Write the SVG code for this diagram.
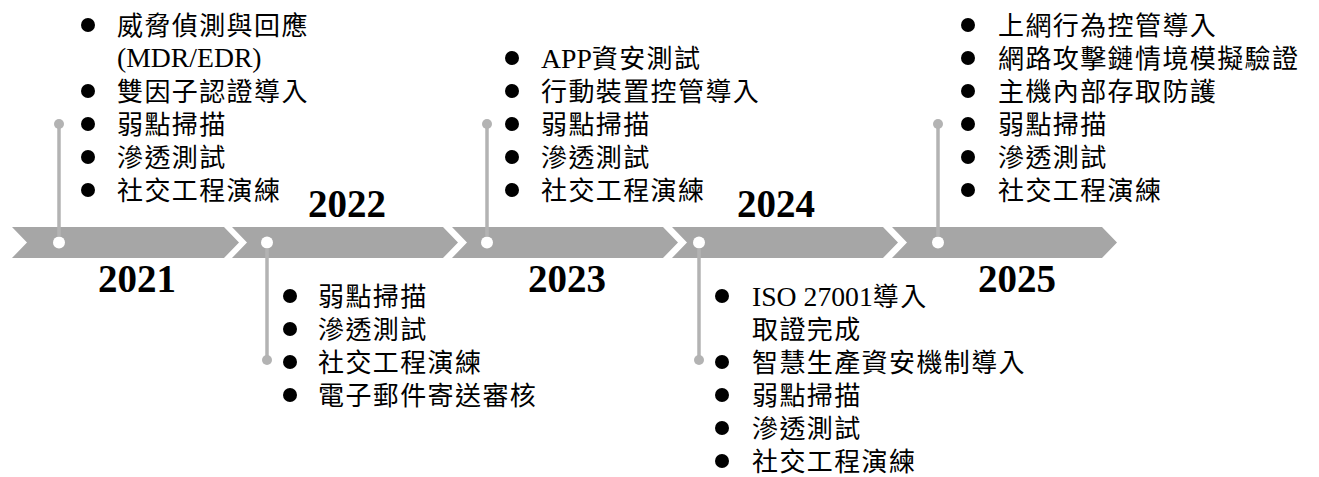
<svg xmlns="http://www.w3.org/2000/svg" width="1319" height="477" viewBox="0 0 1319 477">
<style>
.band{fill:#a6a6a6}
.hole{fill:#ffffff}
.conn{stroke:#b3b3b3;stroke-width:3.5;fill:none}
.knob{fill:#b3b3b3}
.bul{fill:#000000}
.item{font-family:"Liberation Serif","Noto Sans CJK TC",serif;font-size:26px;letter-spacing:1.4px;fill:#000000}
.lat{font-size:27.7px;letter-spacing:0}
.year{font-family:"Liberation Serif","Times New Roman",serif;font-size:39px;font-weight:bold;fill:#000000;text-anchor:middle}
</style>
<rect width="1319" height="477" fill="#ffffff"/>

<g id="y2021">
<path class="band" d="M12,227 L224,227 L239,242.5 L224,258 L12,258 L27,242.5 Z"/>
<circle class="hole" cx="59" cy="242.5" r="6"/>
<text class="year" x="137" y="292">2021</text>
<circle class="bul" cx="88" cy="25" r="7"/><text class="item" x="117" y="35">威脅偵測與回應</text>
<text class="item lat" x="117" y="67">(MDR/EDR)</text>
<circle class="bul" cx="88" cy="91" r="7"/><text class="item" x="117" y="101">雙因子認證導入</text>
<circle class="bul" cx="88" cy="124" r="7"/><text class="item" x="117" y="134">弱點掃描</text>
<circle class="bul" cx="88" cy="157" r="7"/><text class="item" x="117" y="167">滲透測試</text>
<circle class="bul" cx="88" cy="190" r="7"/><text class="item" x="117" y="200">社交工程演練</text>
</g>

<g id="y2022">
<path class="band" d="M232,227 L443,227 L458,242.5 L443,258 L232,258 L247,242.5 Z"/>
<circle class="hole" cx="267" cy="242.5" r="6"/>
<text class="year" x="347" y="217">2022</text>
<circle class="bul" cx="290" cy="296" r="7"/><text class="item" x="318" y="306">弱點掃描</text>
<circle class="bul" cx="290" cy="329" r="7"/><text class="item" x="318" y="339">滲透測試</text>
<circle class="bul" cx="290" cy="362" r="7"/><text class="item" x="318" y="372">社交工程演練</text>
<circle class="bul" cx="290" cy="395" r="7"/><text class="item" x="318" y="405">電子郵件寄送審核</text>
</g>

<g id="y2023">
<path class="band" d="M452,227 L663,227 L678,242.5 L663,258 L452,258 L467,242.5 Z"/>
<circle class="hole" cx="487" cy="242.5" r="6"/>
<text class="year" x="567" y="292">2023</text>
<circle class="bul" cx="512" cy="58" r="7"/><text class="item" x="541" y="68"><tspan class="lat">APP</tspan>資安測試</text>
<circle class="bul" cx="512" cy="91" r="7"/><text class="item" x="541" y="101">行動裝置控管導入</text>
<circle class="bul" cx="512" cy="124" r="7"/><text class="item" x="541" y="134">弱點掃描</text>
<circle class="bul" cx="512" cy="157" r="7"/><text class="item" x="541" y="167">滲透測試</text>
<circle class="bul" cx="512" cy="190" r="7"/><text class="item" x="541" y="200">社交工程演練</text>
</g>

<g id="y2024">
<path class="band" d="M672,227 L883,227 L898,242.5 L883,258 L672,258 L687,242.5 Z"/>
<circle class="hole" cx="699" cy="242.5" r="6"/>
<text class="year" x="776" y="217">2024</text>
<circle class="bul" cx="722" cy="296" r="7"/><text class="item" x="752" y="306"><tspan class="lat">ISO 27001</tspan>導入</text>
<text class="item" x="752" y="339">取證完成</text>
<circle class="bul" cx="722" cy="362" r="7"/><text class="item" x="752" y="372">智慧生產資安機制導入</text>
<circle class="bul" cx="722" cy="395" r="7"/><text class="item" x="752" y="405">弱點掃描</text>
<circle class="bul" cx="722" cy="428" r="7"/><text class="item" x="752" y="438">滲透測試</text>
<circle class="bul" cx="722" cy="461" r="7"/><text class="item" x="752" y="471">社交工程演練</text>
</g>

<g id="y2025">
<path class="band" d="M892,227 L1102,227 L1117,242.5 L1102,258 L892,258 L907,242.5 Z"/>
<circle class="hole" cx="938" cy="242.5" r="6"/>
<text class="year" x="1017" y="292">2025</text>
<circle class="bul" cx="968" cy="25" r="7"/><text class="item" x="998" y="35">上網行為控管導入</text>
<circle class="bul" cx="968" cy="58" r="7"/><text class="item" x="998" y="68">網路攻擊鏈情境模擬驗證</text>
<circle class="bul" cx="968" cy="91" r="7"/><text class="item" x="998" y="101">主機內部存取防護</text>
<circle class="bul" cx="968" cy="124" r="7"/><text class="item" x="998" y="134">弱點掃描</text>
<circle class="bul" cx="968" cy="157" r="7"/><text class="item" x="998" y="167">滲透測試</text>
<circle class="bul" cx="968" cy="190" r="7"/><text class="item" x="998" y="200">社交工程演練</text>
</g>

<g id="connectors">
<line class="conn" x1="59" y1="124" x2="59" y2="236.5"/><circle class="knob" cx="59" cy="124" r="5"/>
<line class="conn" x1="267" y1="248.5" x2="267" y2="360"/><circle class="knob" cx="267" cy="360" r="5"/>
<line class="conn" x1="487" y1="124" x2="487" y2="236.5"/><circle class="knob" cx="487" cy="124" r="5"/>
<line class="conn" x1="699" y1="248.5" x2="699" y2="360"/><circle class="knob" cx="699" cy="360" r="5"/>
<line class="conn" x1="938" y1="124" x2="938" y2="236.5"/><circle class="knob" cx="938" cy="124" r="5"/>
</g>
</svg>
